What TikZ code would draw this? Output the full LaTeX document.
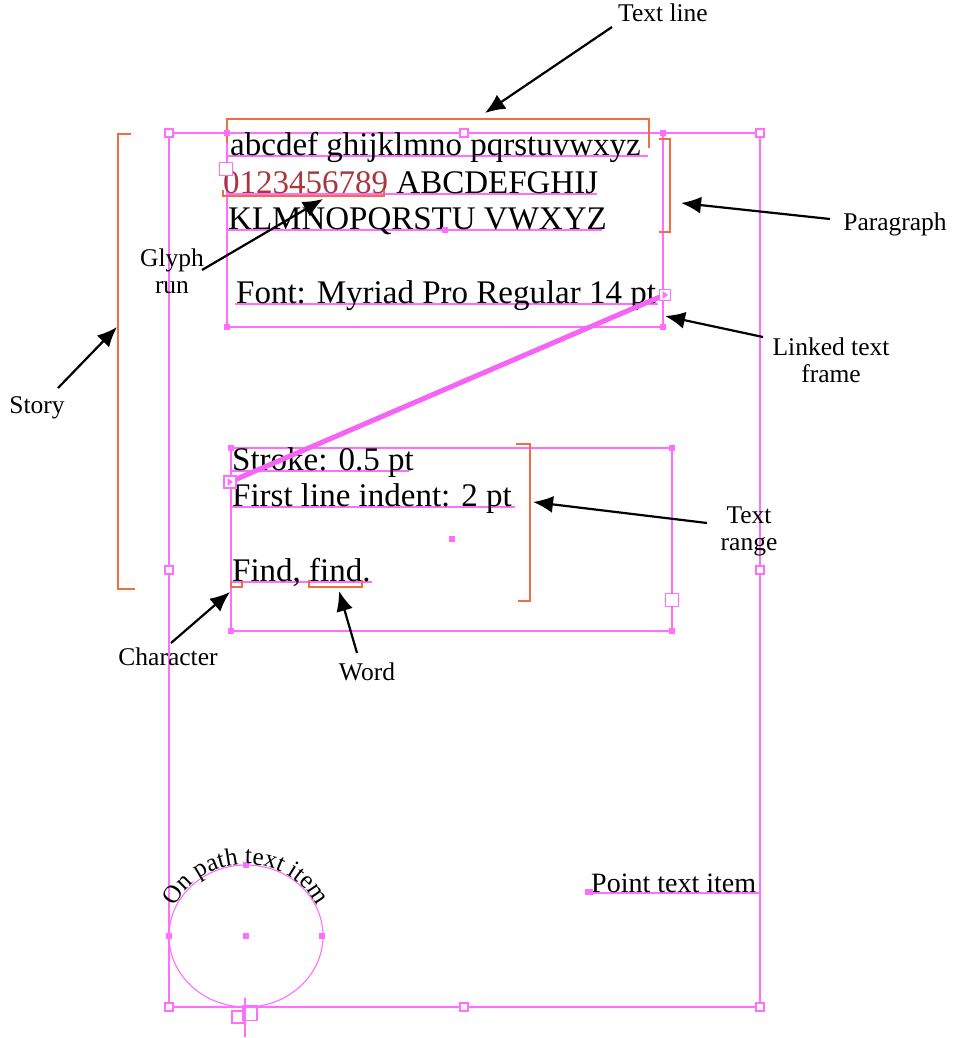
\documentclass[tikz,border=0pt]{standalone}
\usepackage{fontspec}
\setmainfont{Liberation Serif}
\usetikzlibrary{arrows.meta,decorations.text,calc}
\definecolor{mag}{RGB}{255,110,255}
\definecolor{thr}{RGB}{245,100,245}
\definecolor{orng}{RGB}{240,110,70}
\definecolor{glyphred}{RGB}{168,56,64}
\begin{document}
\begin{tikzpicture}[x=1pt,y=-1pt,
 frameline/.style={draw=mag,line width=1.3pt},
 baseln/.style={draw=mag,line width=1.6pt},
 bracket/.style={draw=orng,line width=2.4pt},
 handle/.style={fill=mag,minimum size=6pt,inner sep=0pt,draw=none,rectangle},
 openhandle/.style={fill=white,draw=mag,line width=1.2pt,minimum size=8pt,inner sep=0pt,rectangle},
 port/.style={fill=white,draw=mag,line width=1.3pt,minimum size=12pt,inner sep=0pt,rectangle},
 maintext/.style={font=\fontsize{33}{38}\selectfont,inner sep=0pt,anchor=base west},
 lbl/.style={font=\fontsize{25.5}{27}\selectfont,inner sep=0pt,anchor=base,align=center},
 pointer/.style={draw=black,line width=2.2pt,-{Latex[length=20pt,width=17pt]}},
 thread/.style={draw=thr,line width=5pt}
]
\useasboundingbox[fill=white] (0,0) rectangle (953,1038);

% outer frame
\draw[frameline] (169,133) rectangle (760,1007);

% first text frame
\draw[frameline] (227,133) rectangle (663,327);
% second text frame
\draw[frameline] (231,448) rectangle (672,631);

% baselines
\draw[baseln] (228,156) -- (648,156);
\draw[baseln] (228,194) -- (597,194);
\draw[baseln] (228,230) -- (602,230);
\draw[baseln] (235,304) -- (658,304);
\draw[baseln] (231,471) -- (409,471);
\draw[baseln] (231,507) -- (515,507);
\draw[baseln] (231,582) -- (372,582);
\draw[baseln] (589,893) -- (760,893);

% texts
\node[maintext] (l1) at (230,155) {abcdef ghijklmno pqrstuvwxyz};
\node[maintext] (l2) at (223,193) {{\color{glyphred}0123456789} ABCDEFGHIJ};
\node[maintext] (l3) at (228,229) {KLMNOPQRSTU VWXYZ};
\node[maintext] (l4) at (236,303) {Font: Myriad Pro Regular 14 pt};
\node[maintext] (s1) at (232,470) {Stroke: 0.5 pt};
\node[maintext] (s2) at (232,506) {First line indent: 2 pt};
\node[maintext] (s3) at (232,581) {Find, find.};
\node[maintext,font=\fontsize{28}{32}\selectfont] (pt) at (591,892) {Point text item};

% orange brackets
\draw[bracket] (227,143) -- (227,119) -- (649,119) -- (649,148);
\draw[bracket] (659,139) -- (670,139) -- (670,232) -- (659,232);
\draw[bracket] (131,134) -- (118,134) -- (118,589) -- (135,589);
\draw[bracket] (516,444) -- (530,444) -- (530,601) -- (518,601);
\draw[orng,line width=1.8pt] (223,190) -- (223,196) -- (384,196) -- (384,190);
\draw[orng,line width=1.8pt] (231,581) -- (231,587) -- (242,587) -- (242,581);
\draw[orng,line width=1.8pt] (309,580) -- (309,587) -- (362,587) -- (362,580);

% thread
\draw[thread] (662,296) -- (232,481);

% handles outer frame
\foreach \p/\n in {{169,133}/o1,{464,133}/o2,{760,133}/o3,{169,570}/o4,{760,570}/o5,{169,1007}/o6,{464,1007}/o7,{760,1007}/o8}
  \node[openhandle] (\n) at (\p) {};
% handles frame 1
\foreach \p/\n in {{227,133}/a1,{663,133}/a2,{227,327}/a3,{663,327}/a4,{445,230}/a5}
  \node[handle] (\n) at (\p) {};
% handles frame 2
\foreach \p/\n in {{231,448}/b1,{672,448}/b2,{231,631}/b3,{672,631}/b4,{452,539}/b5}
  \node[handle] (\n) at (\p) {};
% ports
\node[port,minimum size=13pt] (inA) at (226,169) {};
\node[port,minimum size=11pt] (outA) at (665,295) {};
\fill[mag] (662.5,291) -- (668,295) -- (662.5,299) -- cycle;
\node[port,minimum size=12pt] (inB) at (230,482) {};
\fill[mag] (227.5,478) -- (233,482) -- (227.5,486) -- cycle;
\node[port,minimum size=13pt] (outB) at (672,600) {};

% point text dot
\node[handle,minimum width=8pt,minimum height=6pt] (ptd) at (589,892) {};

% circle on path
\draw[mag,line width=1.1pt] (246,936) ellipse [x radius=77pt, y radius=71pt];
\foreach \p/\n in {{246,865}/c1,{169,936}/c2,{322,936}/c3,{246,936}/c4}
  \node[handle] (\n) at (\p) {};
\path[decorate,decoration={text along path,text align=center,
   text={|\fontsize{25}{30}\selectfont|On path text item}}]
   (246,936) ++(172:78pt and 72pt) arc[start angle=172,end angle=8,x radius=78pt,y radius=72pt];
\draw[mag,line width=1.1pt] (245,998) -- (245,1037);
\node[port,minimum size=12pt,line width=1.1pt,fill=none] (cp1) at (238,1017) {};
\node[port,minimum width=14pt,minimum height=15pt,line width=1.1pt,fill=none] (cp2) at (250,1013) {};

% labels
\node[lbl] (tTextline) at (663,22) {Text line};
\node[lbl] (tPara) at (895,230) {Paragraph};
\node[lbl] (tLinked) at (831,382) {Linked text\\frame};
\node[lbl] (tRange) at (749,550) {Text\\range};
\node[lbl] (tStory) at (37,413) {Story};
\node[lbl] (tGlyph) at (172,293) {Glyph\\run};
\node[lbl] (tChar) at (168,665) {Character};
\node[lbl] (tWord) at (367,680) {Word};

\coordinate (eTextline) at (485,113);
\coordinate (sTextline) at (612,27);
\coordinate (sPara) at (830,219);
\coordinate (ePara) at (681,203);
\coordinate (sLinked) at (763,337);
\coordinate (eLinked) at (665,316);
\coordinate (sRange) at (707,523);
\coordinate (eRange) at (533,502);
\coordinate (sStory) at (58,388);
\coordinate (eStory) at (117,327);
\coordinate (sGlyph) at (202,270);
\coordinate (eGlyph) at (323,199);
\coordinate (sChar) at (171,643);
\coordinate (eChar) at (230,592);
\coordinate (sWord) at (357,653);
\coordinate (eWord) at (339,591);

\draw[pointer] (sTextline) -- (eTextline);
\draw[pointer] (sPara) -- (ePara);
\draw[pointer] (sLinked) -- (eLinked);
\draw[pointer] (sRange) -- (eRange);
\draw[pointer] (sStory) -- (eStory);
\draw[pointer] (sGlyph) -- (eGlyph);
\draw[pointer] (sChar) -- (eChar);
\draw[pointer] (sWord) -- (eWord);
\end{tikzpicture}
\end{document}
